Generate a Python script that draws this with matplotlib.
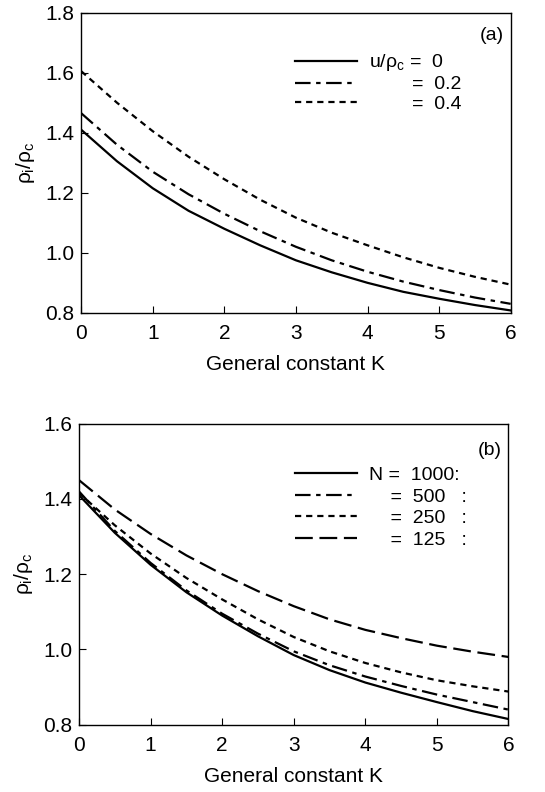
import matplotlib.pyplot as plt
import numpy as np

plt.rcParams['font.family'] = ['Liberation Sans', 'DejaVu Sans']
plt.rcParams['mathtext.fontset'] = 'custom'
plt.rcParams['mathtext.rm'] = 'Liberation Sans'
plt.rcParams['mathtext.it'] = 'Liberation Sans'
plt.rcParams['mathtext.bf'] = 'Liberation Sans'

# 数据 (a)
K = [0, 0.5, 1, 1.5, 2, 2.5, 3, 3.5, 4, 4.5, 5, 5.5, 6]
u_0 = [1.41, 1.305, 1.215, 1.14, 1.08, 1.025, 0.975, 0.935, 0.90, 0.87, 0.847, 0.826, 0.808]
u_02 = [1.465, 1.36, 1.27, 1.195, 1.13, 1.072, 1.02, 0.975, 0.937, 0.904, 0.876, 0.851, 0.83]
u_04 = [1.605, 1.50, 1.405, 1.32, 1.245, 1.177, 1.117, 1.067, 1.025, 0.985, 0.95, 0.92, 0.894]

# 数据 (b)
N_1000 = [1.41, 1.31, 1.225, 1.152, 1.09, 1.035, 0.985, 0.945, 0.912, 0.885, 0.86, 0.836, 0.815]
N_500 = [1.42, 1.315, 1.23, 1.157, 1.095, 1.042, 0.995, 0.958, 0.928, 0.903, 0.88, 0.86, 0.84]
N_250 = [1.416, 1.33, 1.255, 1.19, 1.133, 1.08, 1.033, 0.995, 0.964, 0.939, 0.918, 0.902, 0.888]
N_125 = [1.45, 1.372, 1.307, 1.25, 1.2, 1.155, 1.115, 1.08, 1.052, 1.03, 1.01, 0.994, 0.98]

labels_a = [r'u/$\rho_{\mathrm{c}}$ =  0',
            '        =  0.2',
            '        =  0.4']
labels_b = ['N =  1000:',
            '    =  500   :',
            '    =  250   :',
            '    =  125   :']

fig = plt.figure(figsize=(5.45, 7.92), dpi=100)
ax1 = fig.add_axes([0.149, 0.605, 0.788, 0.379])
ax2 = fig.add_axes([0.145, 0.085, 0.788, 0.380])

lw = 1.6
dashdot = (0, (7, 2.5, 2, 2.5))
dashed = (0, (2.8, 2.2))
longdash = (0, (8, 3))

ax1.plot(K, u_0, color='black', lw=lw, label=labels_a[0])
ax1.plot(K, u_02, color='black', lw=lw, linestyle=dashdot, label=labels_a[1])
ax1.plot(K, u_04, color='black', lw=lw, linestyle=dashed, label=labels_a[2])
ax1.set_ylim(0.8, 1.8)
ax1.set_yticks([0.8, 1.0, 1.2, 1.4, 1.6, 1.8])
ax1.text(0.985, 0.925, '(a)', transform=ax1.transAxes, ha='right', va='center', fontsize=14)
ax1.legend(loc='upper left', bbox_to_anchor=(0.475, 0.90), frameon=False, fontsize=14,
           handlelength=3.2, handletextpad=0.6, labelspacing=0.12, borderpad=0)

ax2.plot(K, N_1000, color='black', lw=lw, label=labels_b[0])
ax2.plot(K, N_500, color='black', lw=lw, linestyle=dashdot, label=labels_b[1])
ax2.plot(K, N_250, color='black', lw=lw, linestyle=dashed, label=labels_b[2])
ax2.plot(K, N_125, color='black', lw=lw, linestyle=longdash, label=labels_b[3])
ax2.set_ylim(0.8, 1.6)
ax2.set_yticks([0.8, 1.0, 1.2, 1.4, 1.6])
ax2.text(0.985, 0.91, '(b)', transform=ax2.transAxes, ha='right', va='center', fontsize=14)
ax2.legend(loc='upper left', bbox_to_anchor=(0.48, 0.89), frameon=False, fontsize=14,
           handlelength=3.2, handletextpad=0.6, labelspacing=0.2, borderpad=0)

for ax in [ax1, ax2]:
    ax.set_xlim(0, 6)
    ax.set_xticks(range(7))
    ax.set_yticklabels([f'{v:.1f}' for v in ax.get_yticks()])
    ax.tick_params(direction='in', length=5, width=0.8, labelsize=15, pad=5)
    ax.tick_params(axis='x', pad=8)
    ax.set_xlabel('General constant K', fontsize=15, labelpad=9)
    ax.set_ylabel(r'$\rho_{\mathrm{i}}/\rho_{\mathrm{c}}$', fontsize=15, labelpad=6)
    for s in ax.spines.values():
        s.set_linewidth(1.0)

plt.savefig('out.png', dpi=100)
